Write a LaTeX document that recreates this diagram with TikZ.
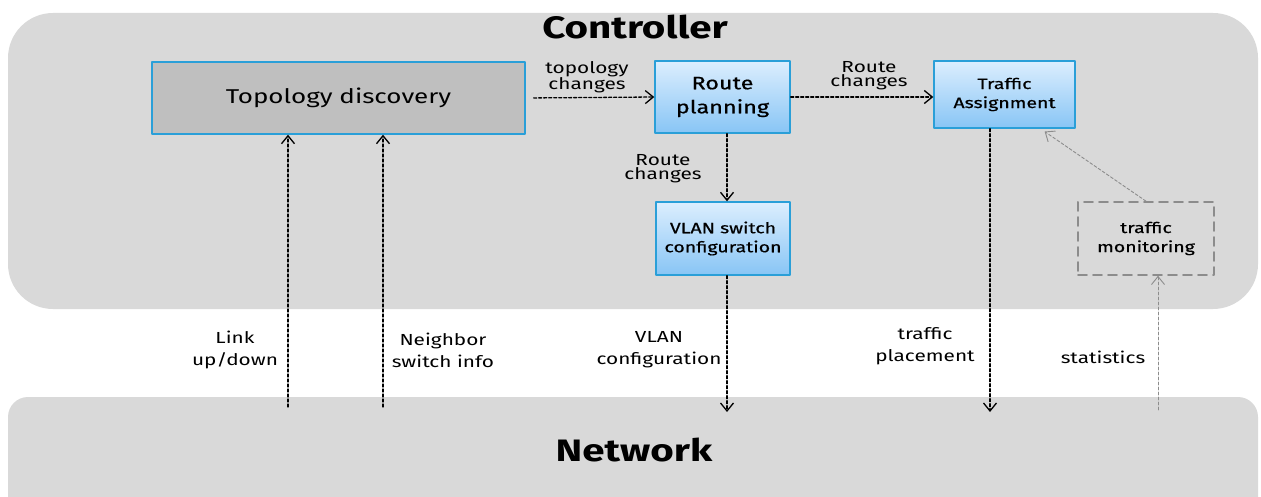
\documentclass[tikz,border=0pt]{standalone}
\usepackage{fontspec}
\setmainfont{Fira Sans}[FakeStretch=1.3]
\newfontfamily\boxfont{Fira Sans}[FakeStretch=1.3,FakeBold=0.6]
\usepackage{xcolor}
\usetikzlibrary{arrows.meta}
\definecolor{panelgray}{HTML}{D9D9D9}
\definecolor{topogray}{HTML}{BFBFBF}
\definecolor{edgeblue}{HTML}{2A9FD8}
\definecolor{topblue}{HTML}{DCEEFE}
\definecolor{lowblue}{HTML}{88C5F5}
\definecolor{linegray}{HTML}{8C8C8C}
\tikzset{
  bluebox/.style={draw=edgeblue,line width=1.4pt,top color=topblue,bottom color=lowblue,
    align=center,inner sep=0pt,font=\boxfont\fontsize{15}{19}\selectfont},
  flow/.style={densely dashed,line width=1.3pt,-{Straight Barb[length=8pt,width=13pt]}},
  grayflow/.style={flow,draw=linegray,line width=0.9pt},
  lbl/.style={align=center,font=\fontsize{16}{14}\selectfont},
  downlbl/.style={align=center,font=\fontsize{16}{22}\selectfont}
}
\begin{document}
\begin{tikzpicture}[x=1pt,y=-1pt,line cap=round,line join=round]
\useasboundingbox (0,0) rectangle (1261,497);
\clip (0,0) rectangle (1261,497);
% panels
\fill[panelgray,rounded corners=45pt] (8,13) rectangle (1258,309);
\fill[panelgray,rounded corners=20pt] (8,397) rectangle (1258,540);
\node[font=\fontsize{31}{31}\bfseries] (ctrl) at (635,27) {Controller};
\node[font=\fontsize{31}{31}\bfseries] (net) at (634,450) {Network};
% boxes
\node[draw=edgeblue,line width=1.4pt,fill=topogray,minimum width=373pt,minimum height=72pt,
  font=\fontsize{20}{24}\selectfont] (topo) at (338.5,98) {Topology discovery};
\node[bluebox,minimum width=135pt,minimum height=72pt,font=\boxfont\fontsize{18}{24}\selectfont]
  (route) at (722.5,97) {Route\\planning};
\node[bluebox,minimum width=141pt,minimum height=67pt] (assign) at (1004.5,94.5) {Traffic\\Assignment};
\node[bluebox,minimum width=134pt,minimum height=73pt] (vlan) at (723,238.5) {VLAN switch\\configuration};
\node[draw=linegray,dashed,dash pattern=on 9pt off 6pt,line width=1.6pt,minimum width=136pt,
  minimum height=73pt,align=center,font=\boxfont\fontsize{15}{19}\selectfont] (monitor) at (1146,238.5)
  {traffic\\monitoring};
% end points in the network
\coordinate (linkEnd) at (288,407);
\coordinate (nbrEnd) at (383,407);
\coordinate (vlanEnd) at (727,412);
\coordinate (placeEnd) at (990,412);
\coordinate (statEnd) at (1158,410);
% connectors
\draw[flow,shorten <=8pt] (topo.east) -- (route.west);
\draw[flow] (route.east) -- (route.east -| assign.west);
\draw[flow] (route.south -| vlanEnd) -- (vlan.north -| vlanEnd);
\draw[flow] (vlan.south -| vlanEnd) -- (vlanEnd);
\draw[flow] (assign.south -| placeEnd) -- (placeEnd);
\draw[flow] (linkEnd) -- (topo.south -| linkEnd);
\draw[flow] (nbrEnd) -- (topo.south -| nbrEnd);
\draw[grayflow] (statEnd) -- (monitor.south -| statEnd);
\draw[grayflow,shorten >=5pt] (monitor.north) -- ([xshift=36pt]assign.south);
% labels
\node[lbl] at (587,77) {topology\\changes};
\node[lbl] at (869,76) {Route\\changes};
\node[lbl] at (663,169) {Route\\changes};
\node[downlbl] at (235,350) {Link\\up/down};
\node[downlbl] at (443,350) {Neighbor\\switch info};
\node[downlbl] at (659,350) {VLAN\\configuration};
\node[downlbl] at (925,346) {traffic\\placement};
\node[downlbl] at (1103,357) {statistics};
\end{tikzpicture}
\end{document}
